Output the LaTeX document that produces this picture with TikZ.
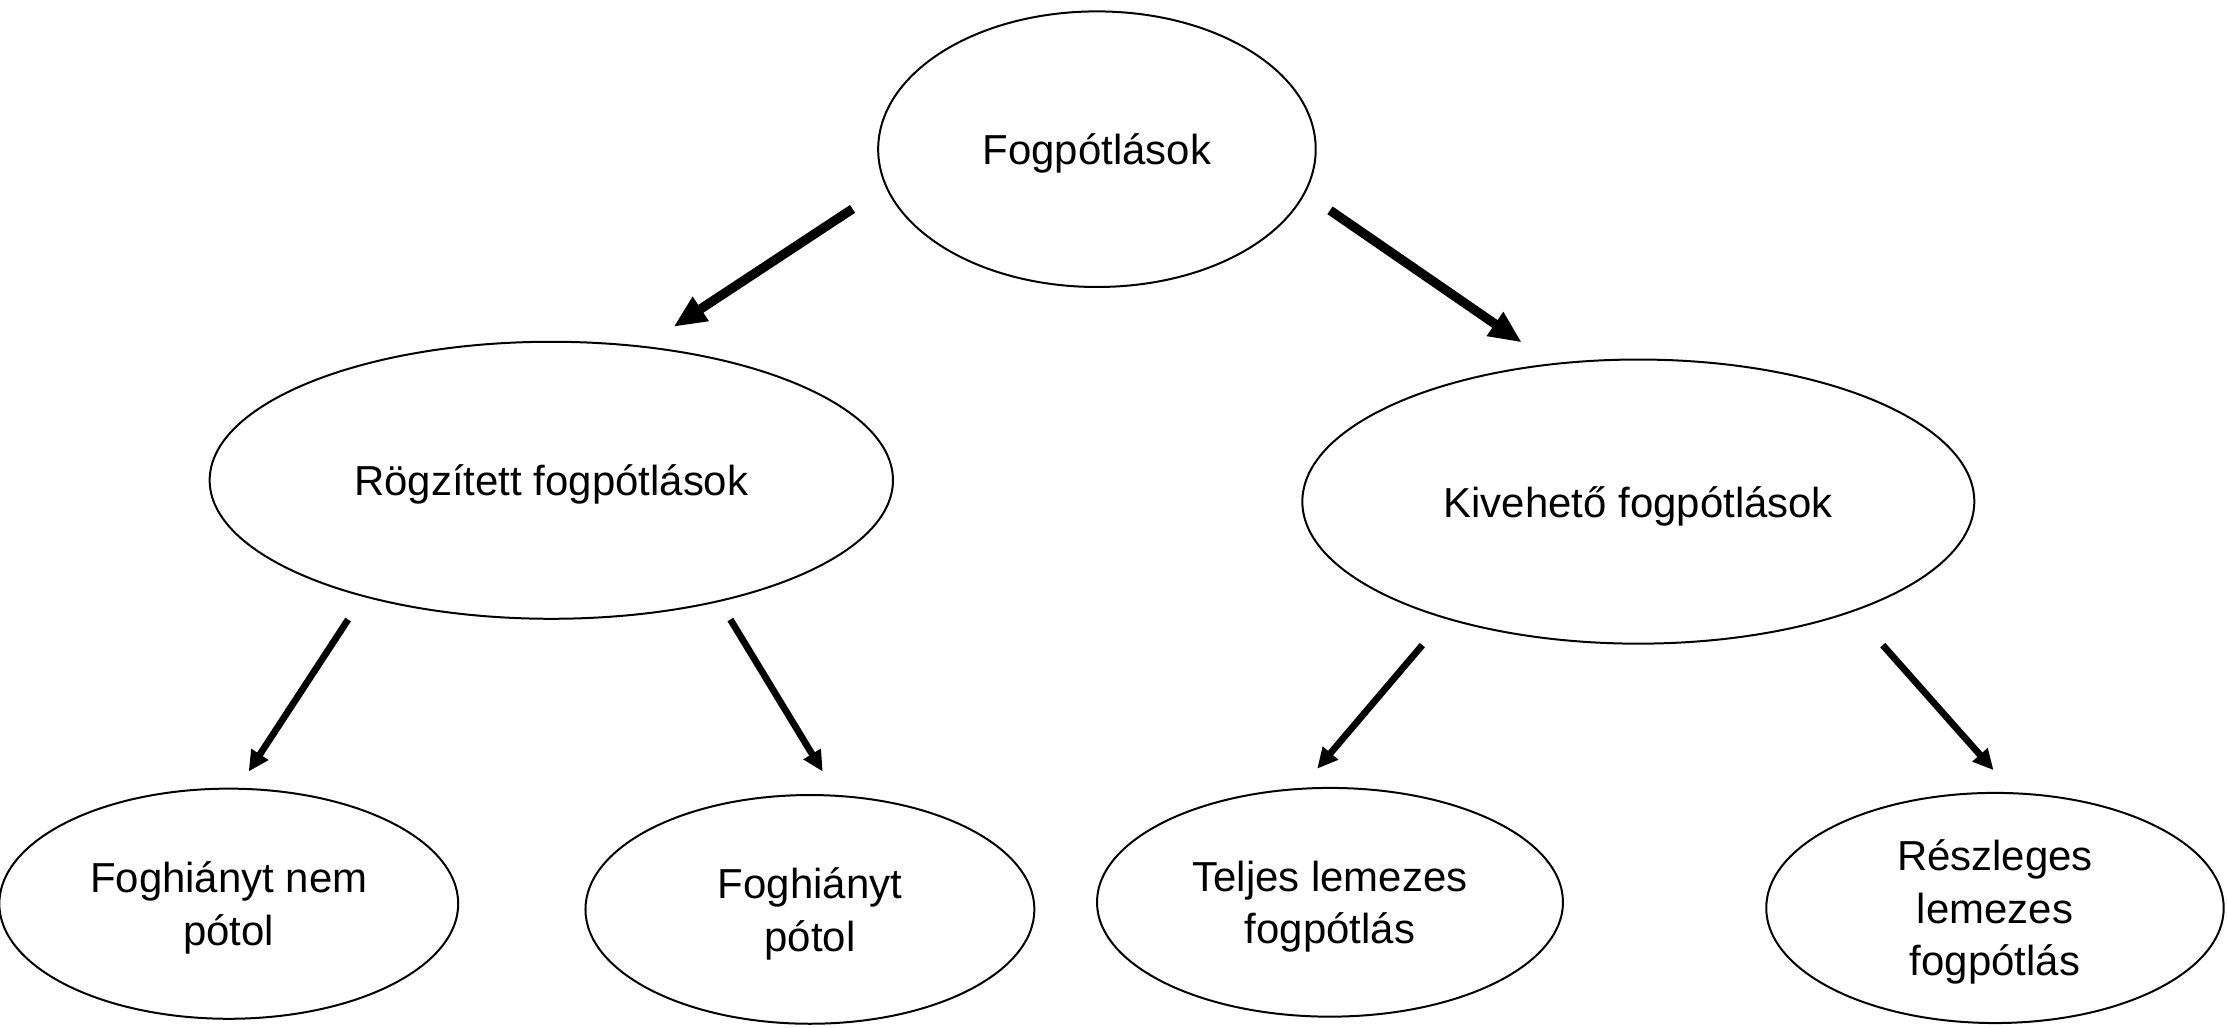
\documentclass[tikz,border=0pt]{standalone}
\usepackage{fontspec}
\setmainfont{Liberation Sans}
\usetikzlibrary{shapes.geometric,arrows.meta}
\tikzset{
	oval/.style= {
		shape=ellipse, draw,
		inner sep=0, line width=0.8pt,
		align=center, text depth=0pt,
		font=\fontsize{16.8}{21}\selectfont
	},
	bigarrow/.style= {
		line width=3.75pt,
		-{Triangle[length=0.46cm,width=0.38cm]}
	},
	smallarrow/.style= {
		line width=2.7pt,
		-{Triangle[length=0.29cm,width=0.27cm]}
	}
}

\begin{document}
\begin{tikzpicture}[x=0.02cm,y=-0.02cm]
\useasboundingbox (0,0) rectangle (1568,723);
% top
\node[oval, minimum width=6.16cm, minimum height=3.88cm] (fog) at (772,105) {Fogpótlások};
% middle row
\node[oval, minimum width=9.62cm, minimum height=3.9cm] (rog) at (388,338) {Rögzített fogpótlások};
\node[oval, minimum width=9.46cm, minimum height=4.0cm] (kiv) at (1153,353) {Kivehető fogpótlások};
% bottom row
\node[oval, minimum width=6.46cm, minimum height=3.24cm] (nem) at (161,636) {Foghiányt nem\\pótol};
\node[oval, minimum width=6.32cm, minimum height=3.22cm] (pot) at (570,640) {Foghiányt\\pótol};
\node[oval, minimum width=6.56cm, minimum height=3.22cm] (tel) at (936,635) {Teljes lemezes\\fogpótlás};
\node[oval, minimum width=6.44cm, minimum height=3.24cm] (res) at (1404,639) {Részleges\\lemezes\\fogpótlás};

% arrow ends
\coordinate (fogL) at (600,147);
\coordinate (rogT) at (474,230);
\coordinate (fogR) at (936,148);
\coordinate (kivT) at (1071,241);
\coordinate (rogL) at (245,436);
\coordinate (nemT) at (175,543);
\coordinate (rogR) at (514,436);
\coordinate (potT) at (579,543);
\coordinate (kivL) at (1001,454);
\coordinate (telT) at (927,541);
\coordinate (kivR) at (1325,454);
\coordinate (resT) at (1403,542);

\draw[bigarrow] (fogL) -- (rogT);
\draw[bigarrow] (fogR) -- (kivT);
\draw[smallarrow] (rogL) -- (nemT);
\draw[smallarrow] (rogR) -- (potT);
\draw[smallarrow] (kivL) -- (telT);
\draw[smallarrow] (kivR) -- (resT);
\end{tikzpicture}
\end{document}
